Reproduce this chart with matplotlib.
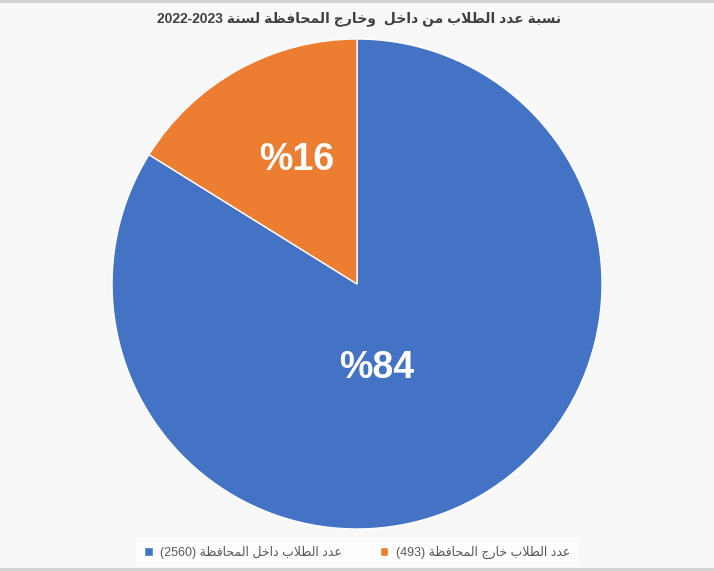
import matplotlib
matplotlib.use("Agg")
import matplotlib.pyplot as plt
import numpy as np

# Arabic letters -> presentation forms (isolated, final, initial, medial)
FORMS = {
    'ا': ('\ufe8d', '\ufe8e', None, None),
    'ب': ('\ufe8f', '\ufe90', '\ufe91', '\ufe92'),
    'ة': ('\ufe93', '\ufe94', None, None),
    'ت': ('\ufe95', '\ufe96', '\ufe97', '\ufe98'),
    'ج': ('\ufe9d', '\ufe9e', '\ufe9f', '\ufea0'),
    'ح': ('\ufea1', '\ufea2', '\ufea3', '\ufea4'),
    'خ': ('\ufea5', '\ufea6', '\ufea7', '\ufea8'),
    'د': ('\ufea9', '\ufeaa', None, None),
    'ر': ('\ufead', '\ufeae', None, None),
    'س': ('\ufeb1', '\ufeb2', '\ufeb3', '\ufeb4'),
    'ط': ('\ufec1', '\ufec2', '\ufec3', '\ufec4'),
    'ظ': ('\ufec5', '\ufec6', '\ufec7', '\ufec8'),
    'ع': ('\ufec9', '\ufeca', '\ufecb', '\ufecc'),
    'ف': ('\ufed1', '\ufed2', '\ufed3', '\ufed4'),
    'ل': ('\ufedd', '\ufede', '\ufedf', '\ufee0'),
    'م': ('\ufee1', '\ufee2', '\ufee3', '\ufee4'),
    'ن': ('\ufee5', '\ufee6', '\ufee7', '\ufee8'),
    'و': ('\ufeed', '\ufeee', None, None),
}


def ar(text):
    # shape arabic text and return it in visual (left to right) order
    out = []
    i = 0
    n = len(text)
    while i < n:
        c = text[i]
        if c not in FORMS:
            out.append(c)
            i += 1
            continue
        prev = i > 0 and text[i - 1] in FORMS and FORMS[text[i - 1]][2] is not None
        if c == 'ل' and i + 1 < n and text[i + 1] == 'ا':
            out.append('\ufefc' if prev else '\ufefb')
            i += 2
            continue
        nxt = FORMS[c][2] is not None and i + 1 < n and text[i + 1] in FORMS
        f = FORMS[c]
        if prev and nxt:
            out.append(f[3])
        elif prev:
            out.append(f[1])
        elif nxt:
            out.append(f[2])
        else:
            out.append(f[0])
        i += 1
    return ''.join(out)[::-1]


title_ar = 'نسبة عدد الطلاب من داخل  وخارج المحافظة لسنة'
title_year = '2022-2023'
labels = ['عدد الطلاب داخل المحافظة', 'عدد الطلاب خارج المحافظة']
counts = [2560, 493]
colors = ['#4472C4', '#ED7D31']
# label placement: distance from centre and angle offset from wedge middle
pct_dist = [0.35, 0.565]
pct_turn = [-16, -3]

fonts = ['Liberation Sans', 'DejaVu Sans']

fig = plt.figure(figsize=(7.14, 5.71), dpi=100)
fig.patch.set_facecolor('#f8f8f8')
ax = fig.add_axes([0.1569, 0.0736, 0.6863, 0.8581])
ax.set_facecolor('none')

wedges, texts, autotexts = ax.pie(
    counts, colors=colors, startangle=90, counterclock=False,
    autopct=lambda p: '%' + f'{p:.0f}', pctdistance=0.5,
    wedgeprops=dict(edgecolor='white', linewidth=1),
    textprops=dict(color='white', fontsize=27, fontweight='bold', family=fonts))
for w, t, d, turn in zip(wedges, autotexts, pct_dist, pct_turn):
    a = np.deg2rad((w.theta1 + w.theta2) / 2 + turn)
    t.set_position((d * np.cos(a), d * np.sin(a)))
ax.set_xlim(-1, 1)
ax.set_ylim(-1, 1)
ax.set_aspect('equal')

fig.text(0.503, 0.968, title_year + ' ' + ar(title_ar), ha='center', va='center',
         fontsize=10, fontweight='bold', color='#404040', family=fonts)

leg_labels = ['(%d) ' % c + ar(l) for c, l in zip(counts, labels)]
leg = fig.legend(wedges, leg_labels, loc='center', bbox_to_anchor=(0.5, 0.033),
                 ncol=2, frameon=True, labelcolor='#595959',
                 handlelength=0.7, handleheight=0.7, columnspacing=3.0,
                 handletextpad=0.6, prop=dict(family=fonts, size=9))
leg.get_frame().set_facecolor('white')
leg.get_frame().set_edgecolor('none')
leg.get_frame().set_boxstyle('square', pad=0.2)

fig.add_artist(plt.Line2D([0, 1], [0.998, 0.998], color='#d0d0d0', lw=2, transform=fig.transFigure))
fig.add_artist(plt.Line2D([0, 1], [0.003, 0.003], color='#d0d0d0', lw=2, transform=fig.transFigure))

fig.savefig('out.png', dpi=100, facecolor=fig.get_facecolor())
